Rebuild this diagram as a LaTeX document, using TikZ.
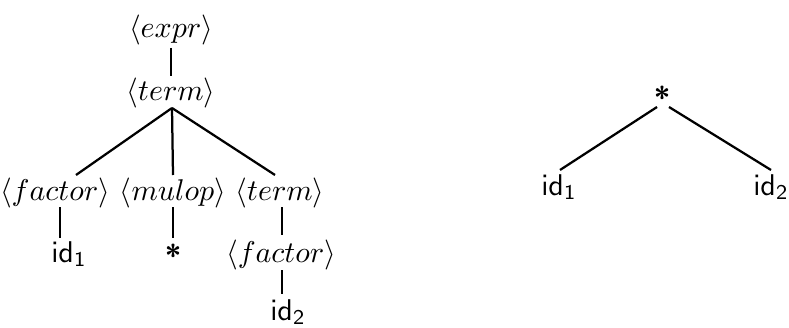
\documentclass[tikz,border=0pt]{standalone}
\usetikzlibrary{calc}
\begin{document}
\begin{tikzpicture}[x=1pt/3, y=-1pt/3, line width=0.7pt,
  nt/.style={inner sep=0pt, anchor=base},
  edge/.style={line width=0.75pt}]
\useasboundingbox (0,0) rectangle (789,327);
% left parse tree
\node[nt] (e)  at (171,38)  {$\langle expr\rangle$};
\node[nt] (t)  at (171,100) {$\langle term\rangle$};
\node[nt] (f1) at (55,200)  {$\langle factor\rangle$};
\node[nt] (m)  at (173,200) {$\langle mulop\rangle$};
\node[nt] (t2) at (280,200) {$\langle term\rangle$};
\node[nt] (i1) at (69,262)  {$\mathsf{id}_{\mathsf{1}}$};
\node[nt] (s1) at (173,266) {\textsf{\bfseries *}};
\node[nt] (f2) at (281,262) {$\langle factor\rangle$};
\node[nt] (i2) at (288,320) {$\mathsf{id}_{\mathsf{2}}$};
\draw[edge] ($(e.base)+(0,10)$) -- ($(t.base)+(0,-24)$);
\draw[edge] ($(t.base)+(1,8)$) -- ($(f1.base)+(21,-25)$);
\draw[edge] ($(t.base)+(1,8)$) -- ($(m.base)+(0,-25)$);
\draw[edge] ($(t.base)+(1,8)$) -- ($(t2.base)+(-5,-25)$);
\draw[edge] ($(f1.base)+(5,7)$) -- ($(i1.base)+(-9,-24)$);
\draw[edge] ($(m.base)+(0,7)$) -- ($(s1.base)+(0,-28)$);
\draw[edge] ($(t2.base)+(2,7)$) -- ($(f2.base)+(1,-27)$);
\draw[edge] ($(f2.base)+(1,8)$) -- ($(i2.base)+(-6,-26)$);
% right syntax tree
\node[nt] (s2) at (662,109) {\textsf{\bfseries *}};
\node[nt] (r1) at (559,195) {$\mathsf{id}_{\mathsf{1}}$};
\node[nt] (r2) at (771,195) {$\mathsf{id}_{\mathsf{2}}$};
\draw[edge] ($(s2.base)+(-5,-2)$) -- ($(r1.base)+(1,-25)$);
\draw[edge] ($(s2.base)+(7,-2)$) -- ($(r2.base)+(0,-25)$);
\end{tikzpicture}
\end{document}
